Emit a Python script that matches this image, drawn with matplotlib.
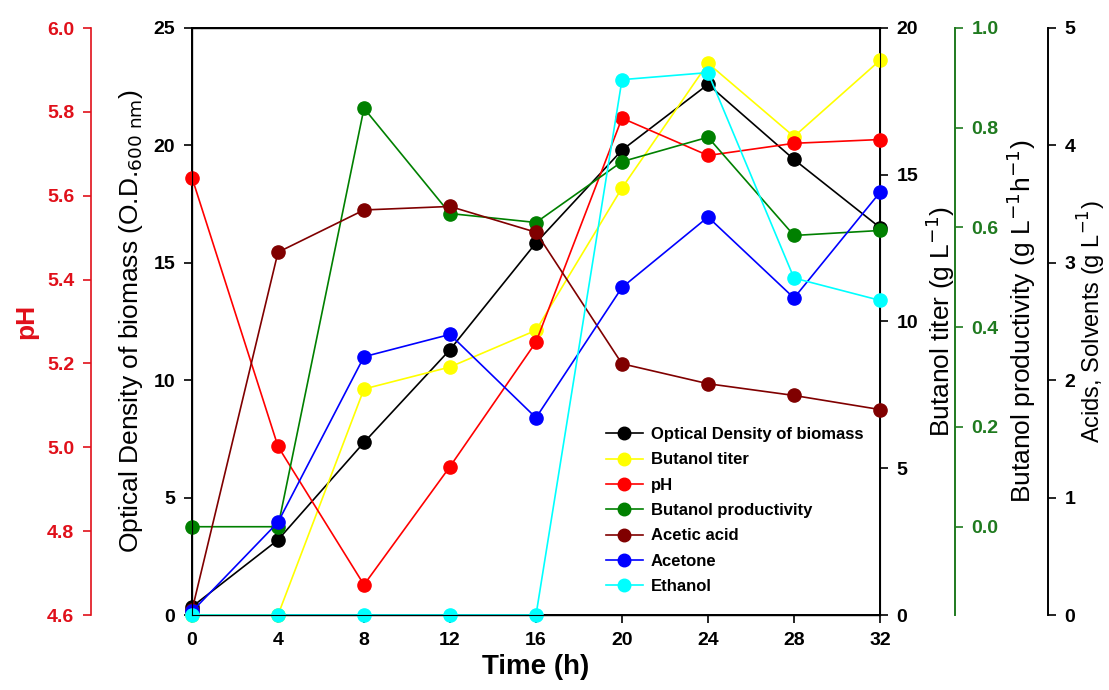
import matplotlib.pyplot as plt

plt.rcParams['font.family'] = ['Liberation Sans', 'DejaVu Sans']

time_h = [0, 4, 8, 12, 16, 20, 24, 28, 32]
od_biomass = [0.35, 3.2, 7.35, 11.3, 15.85, 19.8, 22.6, 19.4, 16.5]
butanol_titer = [0, 0, 7.7, 8.45, 9.7, 14.55, 18.8, 16.3, 18.9]
ph = [5.643, 5.002, 4.672, 4.954, 5.251, 5.785, 5.696, 5.725, 5.734]
butanol_prod = [0.0, 0.0, 0.839, 0.628, 0.610, 0.732, 0.781, 0.584, 0.594]
acetic_acid = [0.04, 3.09, 3.45, 3.48, 3.26, 2.14, 1.97, 1.87, 1.75]
acetone = [0.03, 0.79, 2.20, 2.39, 1.68, 2.79, 3.39, 2.70, 3.60]
ethanol = [0, 0, 0, 0, 0, 4.56, 4.62, 2.87, 2.68]

narrow = ['Liberation Sans Narrow', 'Liberation Sans']
tick_font = dict(family=narrow, weight='bold', size=14)
label_font = dict(size=19)

fig = plt.figure(figsize=(11.09, 6.9), dpi=100)
ax = fig.add_axes([192 / 1109, 75 / 690, 688 / 1109, 587 / 690])
ax_bt = ax.twinx()
ax_ph = ax.twinx()
ax_pr = ax.twinx()
ax_ac = ax.twinx()

ax_ph.spines['right'].set_visible(False)
ax_ph.spines['left'].set_visible(True)
ax_ph.spines['left'].set_position(('axes', -0.147))
ax_ph.yaxis.set_ticks_position('left')
ax_ph.yaxis.set_label_position('left')
ax_pr.spines['right'].set_position(('axes', 1.109))
ax_ac.spines['right'].set_position(('axes', 1.244))

ms = 9.5
lw = 1.2
handles = []
handles += ax.plot(time_h, od_biomass, '-o', color='black', ms=ms, lw=lw, label='Optical Density of biomass')
handles += ax_bt.plot(time_h, butanol_titer, '-o', color='#ffff00', ms=ms, lw=lw, label='Butanol titer')
handles += ax_ph.plot(time_h, ph, '-o', color='#ff0000', ms=ms, lw=lw, label='pH')
handles += ax_pr.plot(time_h, butanol_prod, '-o', color='#008000', ms=ms, lw=lw, label='Butanol productivity')
handles += ax_ac.plot(time_h, acetic_acid, '-o', color='#800000', ms=ms, lw=lw, label='Acetic acid')
handles += ax_ac.plot(time_h, acetone, '-o', color='#0000ff', ms=ms, lw=lw, label='Acetone')
handles += ax_ac.plot(time_h, ethanol, '-o', color='#00ffff', ms=ms, lw=lw, label='Ethanol')

for a in (ax, ax_bt, ax_ph, ax_pr, ax_ac):
    a.set_xlim(0, 32)
    a.patch.set_visible(False)
    for line in a.get_lines():
        line.set_clip_on(False)

ax.set_ylim(0, 25)
ax_bt.set_ylim(0, 20)
ax_ph.set_ylim(4.6, 6.0)
ax_pr.set_ylim(-0.177, 1.0)
ax_ac.set_ylim(0, 5)

ph_ticks = [4.6, 4.8, 5.0, 5.2, 5.4, 5.6, 5.8, 6.0]
pr_ticks = [0.0, 0.2, 0.4, 0.6, 0.8, 1.0]
ax.set_xticks(time_h)
ax.set_yticks([0, 5, 10, 15, 20, 25])
ax_bt.set_yticks([0, 5, 10, 15, 20])
ax_ph.set_yticks(ph_ticks)
ax_ph.set_yticklabels(['%.1f' % v for v in ph_ticks])
ax_pr.set_yticks(pr_ticks)
ax_pr.set_yticklabels(['%.1f' % v for v in pr_ticks])
ax_ac.set_yticks([0, 1, 2, 3, 4, 5])

for a in (ax, ax_bt, ax_ph, ax_pr, ax_ac):
    a.tick_params(direction='out', length=6, width=1.2, pad=6)
    for t in a.get_yticklabels() + a.get_xticklabels():
        t.set(**tick_font)
for s in ax.spines.values():
    s.set_linewidth(1.4)
ax_ac.spines['right'].set_linewidth(1.4)

red = '#e0101a'
green = '#1f7a1f'
ax_ph.spines['left'].set_color(red)
ax_ph.spines['left'].set_linewidth(1.2)
ax_ph.tick_params(axis='y', colors=red)
ax_pr.spines['right'].set_color(green)
ax_pr.spines['right'].set_linewidth(1.4)
ax_pr.tick_params(axis='y', colors=green)

ax.set_xlabel('Time (h)', family=narrow, weight='bold', size=20, labelpad=4)
ax.set_ylabel('Optical Density of biomass (O.D.$_{600\\ \\mathrm{nm}}$)', labelpad=6, **label_font)
ax_bt.set_ylabel('Butanol titer (g L$^{-1}$)', labelpad=4, **label_font)
ax_ph.set_ylabel('pH', color=red, weight='bold', labelpad=6, **label_font)
ax_pr.set_ylabel('Butanol productivity (g L$^{-1}$h$^{-1}$)', labelpad=4, **label_font)
ax_ac.set_ylabel('Acids, Solvents (g L$^{-1}$)', size=17)
ax_ac.yaxis.set_label_coords(1.285, 0.5)

leg = ax_ac.legend(handles=handles, loc='lower left', bbox_to_anchor=(0.58, 0.01), frameon=False,
                   prop=dict(family=narrow, weight='bold', size=12),
                   handlelength=2.2, labelspacing=0.62, handletextpad=0.5, markerscale=0.95)

fig.savefig('out.png', dpi=100)
